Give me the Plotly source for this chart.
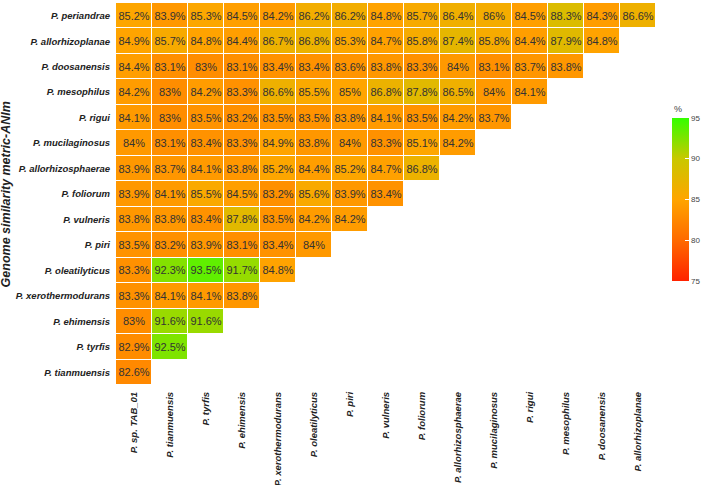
import plotly.graph_objects as go

row_labels = ["P. periandrae", "P. allorhizoplanae", "P. doosanensis", "P. mesophilus",
              "P. rigui", "P. mucilaginosus", "P. allorhizosphaerae", "P. foliorum",
              "P. vulneris", "P. piri", "P. oleatilyticus", "P. xerothermodurans",
              "P. ehimensis", "P. tyrfis", "P. tianmuensis"]

col_labels = ["P. sp. TAB_01", "P. tianmuensis", "P. tyrfis", "P. ehimensis",
              "P. xerothermodurans", "P. oleatilyticus", "P. piri", "P. vulneris",
              "P. foliorum", "P. allorhizosphaerae", "P. mucilaginosus", "P. rigui",
              "P. mesophilus", "P. doosanensis", "P. allorhizoplanae"]

r_periandrae = [85.2, 83.9, 85.3, 84.5, 84.2, 86.2, 86.2, 84.8, 85.7, 86.4, 86, 84.5, 88.3, 84.3, 86.6]
r_allorhizoplanae = [84.9, 85.7, 84.8, 84.4, 86.7, 86.8, 85.3, 84.7, 85.8, 87.4, 85.8, 84.4, 87.9, 84.8]
r_doosanensis = [84.4, 83.1, 83, 83.1, 83.4, 83.4, 83.6, 83.8, 83.3, 84, 83.1, 83.7, 83.8]
r_mesophilus = [84.2, 83, 84.2, 83.3, 86.6, 85.5, 85, 86.8, 87.8, 86.5, 84, 84.1]
r_rigui = [84.1, 83, 83.5, 83.2, 83.5, 83.5, 83.8, 84.1, 83.5, 84.2, 83.7]
r_mucilaginosus = [84, 83.1, 83.4, 83.3, 84.9, 83.8, 84, 83.3, 85.1, 84.2]
r_allorhizosphaerae = [83.9, 83.7, 84.1, 83.8, 85.2, 84.4, 85.2, 84.7, 86.8]
r_foliorum = [83.9, 84.1, 85.5, 84.5, 83.2, 85.6, 83.9, 83.4]
r_vulneris = [83.8, 83.8, 83.4, 87.8, 83.5, 84.2, 84.2]
r_piri = [83.5, 83.2, 83.9, 83.1, 83.4, 84]
r_oleatilyticus = [83.3, 92.3, 93.5, 91.7, 84.8]
r_xerothermodurans = [83.3, 84.1, 84.1, 83.8]
r_ehimensis = [83, 91.6, 91.6]
r_tyrfis = [82.9, 92.5]
r_tianmuensis = [82.6]

rows = [r_periandrae, r_allorhizoplanae, r_doosanensis, r_mesophilus, r_rigui,
        r_mucilaginosus, r_allorhizosphaerae, r_foliorum, r_vulneris, r_piri,
        r_oleatilyticus, r_xerothermodurans, r_ehimensis, r_tyrfis, r_tianmuensis]

n = len(col_labels)
z = [r + [None] * (n - len(r)) for r in rows]
text = [[(f"{v:g}%" if v is not None else "") for v in r] for r in z]

colorscale = [[0.0, "#FF2200"], [0.25, "#FF6A00"], [0.5, "#FFA500"],
              [0.75, "#C9C800"], [1.0, "#33FF00"]]

FONT = "Liberation Sans, Arial"

fig = go.Figure(go.Heatmap(
    z=z, x=col_labels, y=row_labels, text=text, texttemplate="%{text}",
    textfont=dict(family=FONT, size=11, color="#333333"),
    colorscale=colorscale, zmin=75, zmax=95, xgap=1, ygap=1,
    hoverongaps=False,
    colorbar=dict(
        x=1.03, xanchor="left", xpad=0, y=0.486, yanchor="middle", ypad=0,
        len=163, lenmode="pixels", thickness=17, thicknessmode="pixels",
        tickvals=[75, 80, 85, 90, 95], ticks="inside", ticklen=4, tickcolor="white",
        tickfont=dict(family=FONT, size=8, color="#444444"),
        outlinewidth=0,
    ),
))

fig.update_layout(
    width=702, height=485,
    margin=dict(l=116, r=46, t=3, b=100, autoexpand=False),
    paper_bgcolor="white", plot_bgcolor="white",
    xaxis=dict(tickangle=-90, showgrid=False, zeroline=False, ticks="", automargin=False,
               tickfont=dict(family=FONT, size=9.5, color="#222222", weight="bold", style="italic"),
               ticklabelstandoff=4),
    yaxis=dict(autorange="reversed", showgrid=False, zeroline=False, ticks="", automargin=False,
               tickfont=dict(family=FONT, size=9.5, color="#222222", weight="bold", style="italic"),
               ticklabelstandoff=5),
    annotations=[
        dict(text="Genome similarity metric-ANIm", textangle=-90, xref="paper", yref="paper",
             x=-0.203, y=0.5, xanchor="center", yanchor="middle", showarrow=False,
             font=dict(family=FONT, size=12.5, color="#222222", weight="bold", style="italic")),
        dict(text="%", xref="paper", yref="paper", x=1.03, y=(485 - 100 - 116) / 382,
             xanchor="left", yanchor="bottom", showarrow=False,
             font=dict(family=FONT, size=9, color="#444444")),
    ],
)

fig.write_html("out.html")
